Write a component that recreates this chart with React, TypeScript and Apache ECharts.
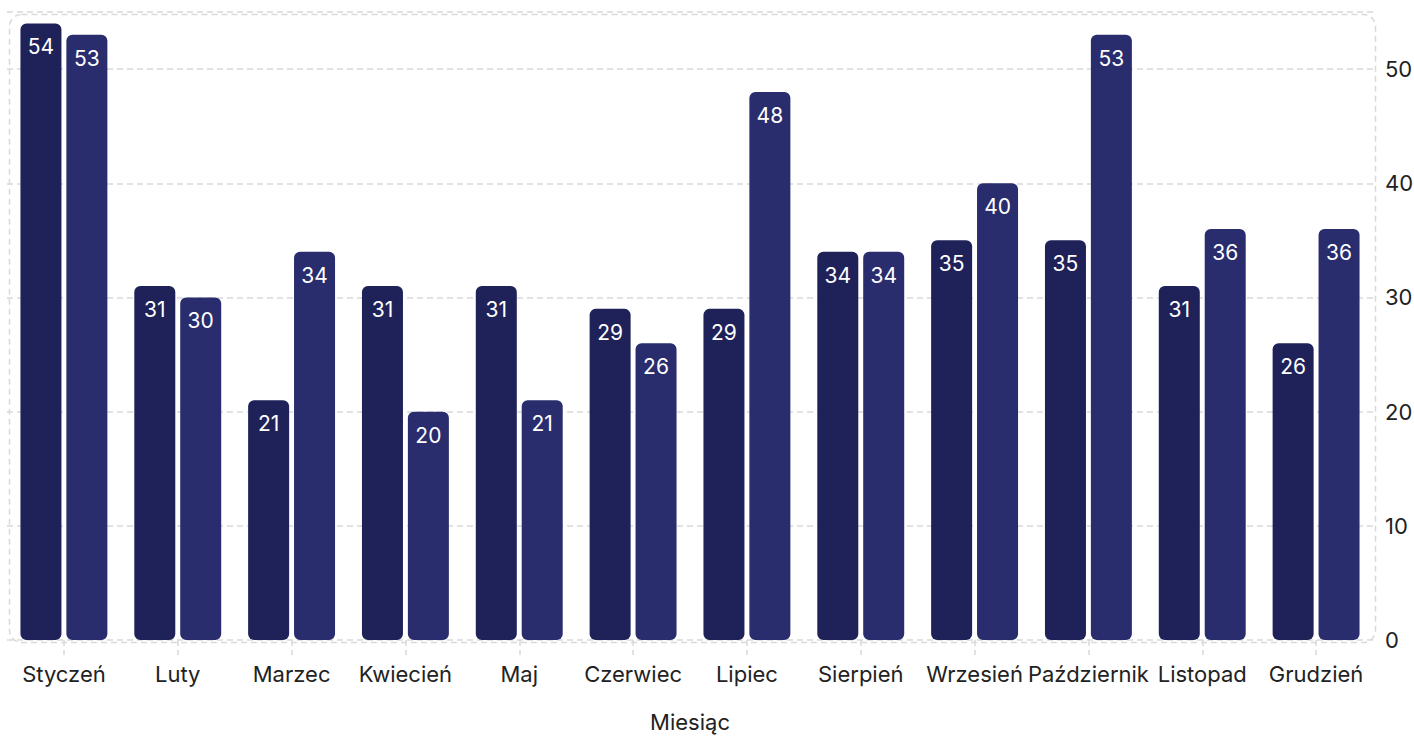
import React, { useEffect, useRef } from "react";
import * as echarts from "echarts";

const months = ["Styczeń", "Luty", "Marzec", "Kwiecień", "Maj", "Czerwiec", "Lipiec", "Sierpień", "Wrzesień", "Październik", "Listopad", "Grudzień"];
const seriesA = [54, 31, 21, 31, 31, 29, 29, 34, 35, 35, 31, 26];
const seriesB = [53, 30, 34, 20, 21, 26, 48, 34, 40, 53, 36, 36];
const yTicks = [0, 10, 20, 30, 40, 50];

export default function App() {
  const ref = useRef<HTMLDivElement>(null);
  useEffect(() => {
    const chart = echarts.init(ref.current!, null, { renderer: "svg" });
    const font = "Inter, 'Noto Sans', sans-serif";
    const grid = { left: 7, right: 41, top: 12, bottom: 96, outerBoundsMode: "none" };
    const labelCfg = {
      show: true,
      position: "insideTop",
      distance: 13,
      color: "#ffffff",
      fontSize: 21,
      fontFamily: font,
    };
    chart.setOption({
      animation: false,
      backgroundColor: "#ffffff",
      grid,
      graphic: [
        {
          type: "rect",
          left: grid.left,
          top: grid.top,
          shape: { width: 1414 - grid.left - grid.right, height: 736 - grid.top - grid.bottom, r: 12 },
          style: { fill: "none", stroke: "#d9d9d9", lineWidth: 1.5, lineDash: [6, 4] },
          z: 0,
          silent: true,
        },
      ],
      xAxis: {
        type: "category",
        data: months,
        name: "Miesiąc",
        nameLocation: "middle",
        nameGap: 71,
        nameTextStyle: { color: "#222", fontSize: 22, fontFamily: font },
        axisLine: { show: false },
        axisTick: { show: true, alignWithLabel: true, length: 15, lineStyle: { color: "#d9d9d9", type: [6, 4], width: 1.5 } },
        axisLabel: { color: "#222", fontSize: 22, fontFamily: font, margin: 23, interval: 0 },
      },
      yAxis: {
        type: "value",
        position: "right",
        min: 0,
        max: 55,
        interval: 10,
        axisLine: { show: false },
        axisTick: { show: false },
        axisLabel: {
          color: "#222",
          fontSize: 22,
          fontFamily: font,
          margin: 12,
          customValues: yTicks,
        },
        splitLine: { show: true, lineStyle: { color: "#d9d9d9", type: [6, 4], width: 1.5 } },
      },
      series: [
        {
          type: "bar",
          data: seriesA,
          barWidth: 41,
          barGap: "12%",
          itemStyle: { color: "#1f2259", borderRadius: 6 },
          label: labelCfg,
        },
        {
          type: "bar",
          data: seriesB,
          barWidth: 41,
          itemStyle: { color: "#292c6d", borderRadius: 6 },
          label: labelCfg,
        },
      ],
    });
    return () => chart.dispose();
  }, []);
  return <div ref={ref} style={{ position: "fixed", left: 0, top: 0, width: 1414, height: 736 }} />;
}
